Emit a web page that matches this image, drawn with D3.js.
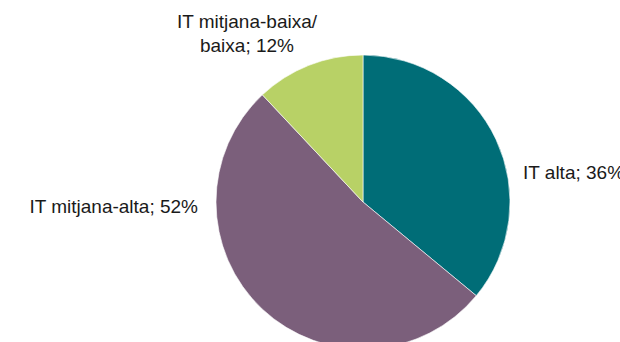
<!DOCTYPE html>
<html>
<head>
<meta charset="utf-8">
<script src="https://cdn.jsdelivr.net/npm/d3@7"></script>
<style>
  html, body { margin: 0; padding: 0; background: #fff; overflow: hidden; }
  svg { display: block; }
  text { font-family: "Liberation Sans", Arial, Helvetica, sans-serif; fill: #1a1a1a; }
</style>
</head>
<body>
<svg id="chart" width="620" height="342"></svg>
<script>
// Share of employment by technological intensity
const categories = ["IT alta", "IT mitjana-alta", "IT mitjana-baixa/ baixa"];
const shares = [36, 52, 12];
const colors = ["#006d77", "#7b5f7b", "#b8d166"];
const labelLines = [["IT alta; 36%"], ["IT mitjana-alta; 52%"], ["IT mitjana-baixa/", "baixa; 12%"]];

const width = 620, height = 342;
const cx = 363, cy = 202, radius = 147;

const svg = d3.select("#chart");
const data = categories.map((c, i) => ({ name: c, value: shares[i], color: colors[i], lines: labelLines[i] }));

const pie = d3.pie().value(d => d.value).sort(null);
const arc = d3.arc().innerRadius(0).outerRadius(radius);
const arcs = pie(data);

const g = svg.append("g").attr("transform", `translate(${cx},${cy})`);
g.selectAll("path")
  .data(arcs)
  .join("path")
  .attr("d", arc)
  .attr("fill", d => d.data.color)
  .attr("stroke", "#ffffff")
  .attr("stroke-width", 0.6);

// Label anchors placed outside each slice
const labelPos = [
  { x: 523, y: 179, anchor: "start" },
  { x: 198, y: 213, anchor: "end" },
  { x: 247, y: 28, anchor: "middle" }
];
const lineHeight = 24;

arcs.forEach((a, i) => {
  const p = labelPos[i];
  const t = svg.append("text")
    .attr("x", p.x)
    .attr("y", p.y)
    .attr("text-anchor", p.anchor)
    .style("font-size", "19px");
  a.data.lines.forEach((ln, j) => {
    t.append("tspan").attr("x", p.x).attr("dy", j === 0 ? 0 : lineHeight).text(ln);
  });
});
</script>
</body>
</html>
